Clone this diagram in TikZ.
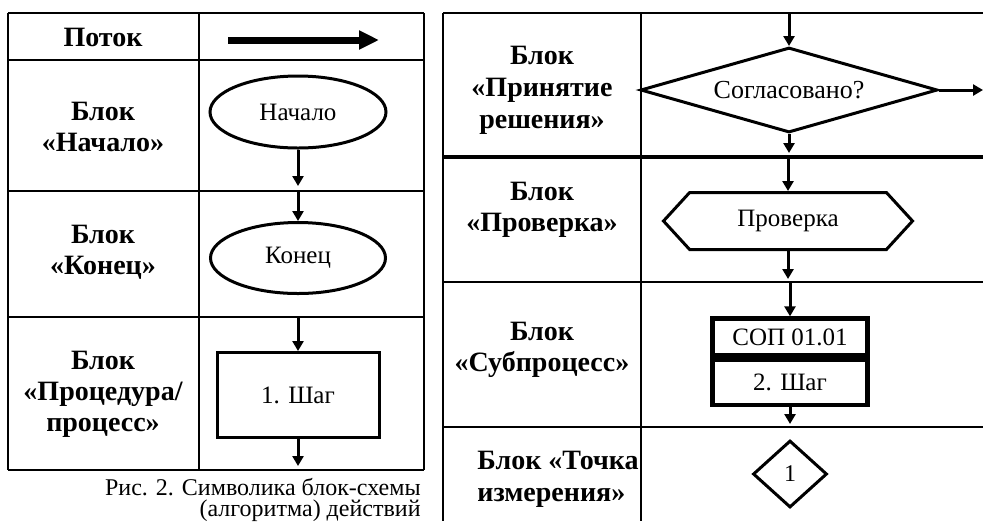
\documentclass[tikz,border=0pt]{standalone}
\usepackage{fontspec}
\setmainfont{Liberation Serif}
\usetikzlibrary{shapes.geometric, shapes.symbols, arrows.meta, positioning}

\begin{document}
\begin{tikzpicture}[x=0.5pt, y=-0.5pt,
  grid/.style={line width=1.2pt},
  rowlabel/.style={font=\fontsize{14}{15.5}\selectfont\bfseries, align=center, inner sep=0pt},
  shapetext/.style={font=\fontsize{12.5}{14}\selectfont, draw, line width=1.5pt, inner sep=0pt},
  flowline/.style={line width=1.5pt, -{Triangle[width=5.5pt,length=5pt]}}
]
\useasboundingbox (0,0) rectangle (983,521);

% left table
\foreach \y in {13,60,191,317,470} \draw[grid] (8,\y) -- (424,\y);
\foreach \x in {8,199,424} \draw[grid] (\x,13) -- (\x,470);

% right table
\foreach \y in {13,282,427} \draw[grid] (443,\y) -- (983,\y);
\draw[grid, line width=2pt] (443,157) -- (983,157);
\foreach \x in {443,641} \draw[grid] (\x,13) -- (\x,521);

% row labels
\node[rowlabel] (flowlbl) at (103,37) {Поток};
\node[rowlabel] (startlbl) at (103,127) {Блок\\«Начало»};
\node[rowlabel] (endlbl) at (103,252) {Блок\\«Конец»};
\node[rowlabel] (proclbl) at (103,394) {Блок\\«Процедура/\\процесс»};
\node[rowlabel, font=\fontsize{14}{16}\selectfont\bfseries] (decisionlbl) at (542,90) {Блок\\«Принятие\\решения»};
\node[rowlabel] (checklbl) at (542,210) {Блок\\«Проверка»};
\node[rowlabel] (subproclbl) at (542,350) {Блок\\«Субпроцесс»};
\node[rowlabel, align=left, anchor=west, font=\fontsize{14}{16}\selectfont\bfseries] (pointlbl) at (477,479) {Блок «Точка\\измерения»};

% flow arrow
\coordinate (flowA) at (228,40);
\coordinate (flowB) at (379,40);
\draw[line width=3.5pt, -{Triangle[width=9pt,length=10pt]}] (flowA) -- (flowB);

% shapes
\node[shapetext, ellipse, minimum width=88pt, minimum height=36pt] (startshape) at (298,112) {Начало};
\node[shapetext, ellipse, minimum width=87.5pt, minimum height=35.5pt] (endshape) at (298,258) {Конец};
\node[shapetext, rectangle, minimum width=81pt, minimum height=42.5pt] (stepshape) at (298,395) {1. Шаг};
\node[shapetext, diamond, aspect=3.5, font=\fontsize{13}{14}\selectfont, minimum width=148.5pt, minimum height=42.5pt] (decision) at (789,90) {Согласовано?};
\node[shapetext, signal, signal to=east and west, signal pointer angle=95, minimum width=124.5pt, minimum height=28.5pt] (checkshape) at (788,221) {Проверка};
\node[shapetext, rectangle, line width=2.2pt, minimum width=77.5pt, minimum height=18.5pt] (sopbox) at (790,337) {СОП 01.01};
\node[shapetext, rectangle, line width=2.2pt, minimum width=77.5pt, minimum height=22.5pt, below=0pt of sopbox] (subbox) {2. Шаг};
\node[shapetext, diamond, font=\fontsize{12}{14}\selectfont, minimum width=37pt, minimum height=33.5pt] (pointshape) at (790,474) {1};

% connectors
\coordinate (startout) at (298,186);
\coordinate (endin) at (298,192);
\coordinate (procin) at (298,318);
\coordinate (procout) at (298,466);
\coordinate (decin) at (789,13);
\coordinate (decyes) at (983,90);
\coordinate (decno) at (789,153);
\coordinate (checkin) at (788,158);
\coordinate (checkout) at (788,279);
\coordinate (subin) at (790,283);
\coordinate (subout) at (790,424);

\draw[flowline] (startshape.south) -- (startout);
\draw[flowline] (endin) -- (endshape.north);
\draw[flowline] (procin) -- (stepshape.north);
\draw[flowline] (stepshape.south) -- (procout);
\draw[flowline] (decin) -- (decision.north);
\draw[flowline] (decision.east) -- (decyes);
\draw[flowline] (decision.south) -- (decno);
\draw[flowline] (checkin) -- (checkshape.north);
\draw[flowline] (checkshape.south) -- (checkout);
\draw[flowline] (subin) -- (sopbox.north);
\draw[flowline] (subbox.south) -- (subout);

% caption
\node[font=\fontsize{12}{10.5}\selectfont, align=right, anchor=north east, inner sep=0pt] (caption) at (421,478) {Рис. 2. Символика блок-схемы\\(алгоритма) действий};
\end{tikzpicture}
\end{document}
